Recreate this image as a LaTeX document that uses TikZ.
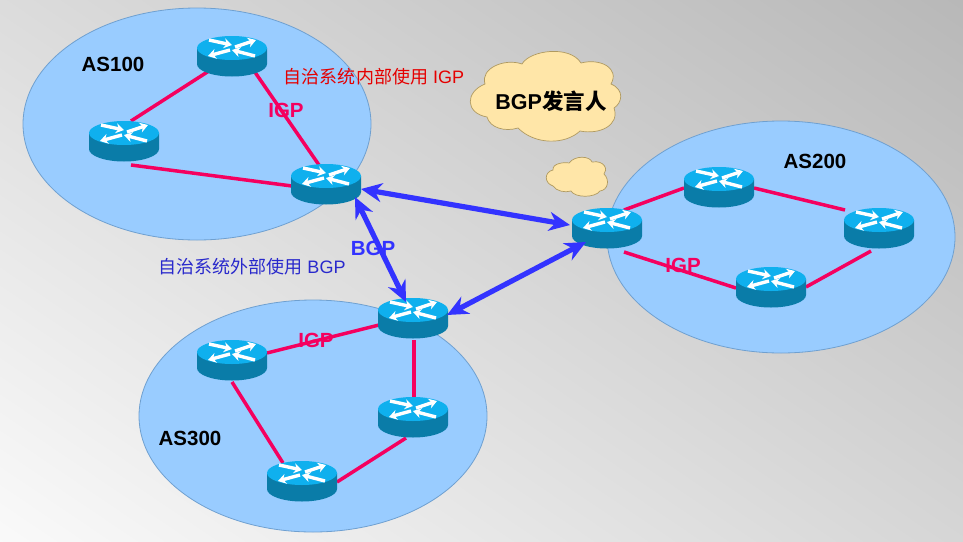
\documentclass[tikz,border=0pt]{standalone}
\usepackage{fontspec}
\setmainfont{Liberation Sans}
\newfontfamily\cjk{Noto Sans CJK SC}
\usetikzlibrary{arrows.meta,shadings}
\definecolor{bluefill}{HTML}{99CCFF}
\definecolor{blueedge}{HTML}{6FA0D0}
\definecolor{linkpink}{HTML}{F5005F}
\definecolor{bgpblue}{HTML}{3333FF}
\definecolor{cloudfill}{HTML}{FFE6A8}
\definecolor{cloudedge}{HTML}{B09A60}
\definecolor{rside}{HTML}{0A7CA8}
\definecolor{rtop}{HTML}{0FB0EE}
\tikzset{
 x=1pt,y=-1pt,
 asarea/.style={fill=bluefill,draw=blueedge,line width=.8pt},
 igp/.style={draw=linkpink,line width=3.5pt},
 bgp/.style={draw=bgpblue,line width=5.2pt,{Stealth[length=21pt,width=19pt]}-{Stealth[length=21pt,width=19pt]}},
 aslabel/.style={font=\bfseries\fontsize{20.5}{22}\selectfont,text=black},
 igplabel/.style={font=\bfseries\fontsize{20.5}{22}\selectfont,text=linkpink},
 router/.style={inner sep=0pt,minimum width=70pt,minimum height=38pt},
 cloudshape/.style={fill=cloudfill,draw=cloudedge,line width=.7pt},
}
\newcommand{\routerpic}[1]{%
 \begin{scope}[shift={(#1.center)}]
  \fill[rside] (-35,-9) -- (-35,7) arc[x radius=35,y radius=12.5,start angle=180,end angle=0] -- (35,-9) -- cycle;
  \fill[rtop] (0,-9) ellipse[x radius=35,y radius=12];
  \foreach \a/\b/\c/\d in {-23/-17/0/-12, 3/-10/24/-17, -2/-7/-24/-1, 23/-1/0/-7}{
    \draw[white,line width=3.4pt,-{Stealth[length=8pt,width=10pt]}] (\a,\b) -- (\c,\d);
  }
 \end{scope}}
\begin{document}
\begin{tikzpicture}
\useasboundingbox (0,0) rectangle (963,541);
\begin{scope}
\clip (0,0) rectangle (963,541);
\shade[top color=black!28,middle color=black!15,bottom color=black!2,shading angle=-34] (-19,-230) rectangle (981,770);
\end{scope}
% AS areas
\filldraw[asarea] (197,124) ellipse[x radius=174,y radius=116];
\filldraw[asarea] (781,237) ellipse[x radius=174,y radius=116];
\filldraw[asarea] (313,416) ellipse[x radius=174,y radius=116];
% routers
\node[router] (r1) at (232,57) {};
\node[router] (r2) at (124,142) {};
\node[router] (r3) at (326,185) {};
\node[router] (r4) at (607,229) {};
\node[router] (r5) at (719,188) {};
\node[router] (r6) at (879,229) {};
\node[router] (r7) at (771,288) {};
\node[router] (r8) at (413,319) {};
\node[router] (r9) at (232,361) {};
\node[router] (r10) at (413,418) {};
\node[router] (r11) at (302,482) {};
% IGP links
\draw[igp] ([shift={(-20,12)}]r1.center) -- ([shift={(7,-21)}]r2.center);
\draw[igp] ([shift={(18,8)}]r1.center) -- ([shift={(-7,-20)}]r3.center);
\draw[igp] ([shift={(7,23)}]r2.center) -- ([shift={(-34,1)}]r3.center);
\draw[igp] ([shift={(17,-19)}]r4.center) -- ([shift={(-35,0)}]r5.center);
\draw[igp] ([shift={(35,0)}]r5.center) -- ([shift={(-34,-19)}]r6.center);
\draw[igp] ([shift={(-8,22)}]r6.center) -- ([shift={(35,-1)}]r7.center);
\draw[igp] ([shift={(-35,0)}]r7.center) -- ([shift={(17,23)}]r4.center);
\draw[igp] ([shift={(35,-8)}]r9.center) -- ([shift={(-34,6)}]r8.center);
\draw[igp] ([shift={(1,21)}]r8.center) -- ([shift={(1,-20)}]r10.center);
\draw[igp] ([shift={(0,21)}]r9.center) -- ([shift={(-19,-19)}]r11.center);
\draw[igp] ([shift={(-7,20)}]r10.center) -- ([shift={(35,0)}]r11.center);
% router drawings
\routerpic{r1}
\routerpic{r2}
\routerpic{r3}
\routerpic{r4}
\routerpic{r5}
\routerpic{r6}
\routerpic{r7}
\routerpic{r8}
\routerpic{r9}
\routerpic{r10}
\routerpic{r11}
% BGP
\draw[bgp] ([shift={(35,4)}]r3.center) -- ([shift={(-37,-4)}]r4.center);
\draw[bgp] ([shift={(29,12)}]r3.center) -- ([shift={(-7,-17)}]r8.center);
\draw[bgp] ([shift={(34,-4)}]r8.center) -- ([shift={(-21,13)}]r4.center);
% clouds
\filldraw[cloudshape] (487,117) .. controls (465,113) and (465,92) .. (485,84)
 .. controls (480,68) and (505,58) .. (522,64)
 .. controls (530,50) and (570,45) .. (581,63)
 .. controls (600,58) and (620,68) .. (611,84)
 .. controls (625,90) and (622,103) .. (614,108)
 .. controls (620,125) and (600,135) .. (580,131)
 .. controls (565,145) and (535,145) .. (518,128)
 .. controls (505,132) and (490,128) .. (487,117) -- cycle;
\filldraw[cloudshape] (553,186) .. controls (544,183) and (544,172) .. (553,170)
 .. controls (552,163) and (565,162) .. (569,163)
 .. controls (575,155) and (590,156) .. (592,162)
 .. controls (605,160) and (608,170) .. (604,174)
 .. controls (610,180) and (608,190) .. (600,191)
 .. controls (595,198) and (575,198) .. (571,191)
 .. controls (565,193) and (556,191) .. (553,186) -- cycle;
% labels
\node[aslabel] (t1) at (113,64) {AS100};
\node[aslabel] (t2) at (815,161) {AS200};
\node[aslabel] (t3) at (190,438) {AS300};
\node[font=\bfseries\fontsize{21.5}{23}\selectfont] (t4) at (551,101) {BGP{\cjk 发言人}};
\node[igplabel] (i1) at (286,110) {IGP};
\node[igplabel] (i2) at (683,265) {IGP};
\node[igplabel] (i3) at (316,340) {IGP};
\node[font=\bfseries\fontsize{20.5}{22}\selectfont,text=bgpblue] (i4) at (373,248) {BGP};
\node[font=\fontsize{18}{20}\selectfont,text=red!90!black] (c1) at (374,77) {{\cjk 自治系统内部使用} IGP};
\node[font=\fontsize{18}{20}\selectfont,text=bgpblue!80!black] (c2) at (252,267) {{\cjk 自治系统外部使用} BGP};
\end{tikzpicture}
\end{document}
